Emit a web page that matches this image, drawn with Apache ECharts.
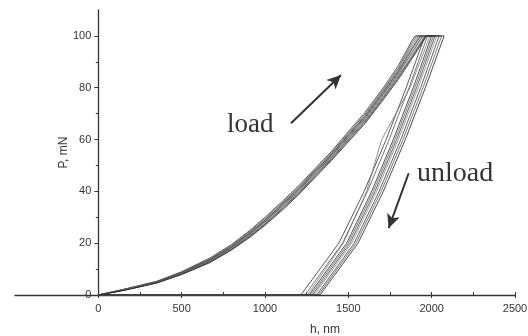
<!DOCTYPE html>
<html>
<head>
<meta charset="utf-8">
<script src="https://cdn.jsdelivr.net/npm/echarts@6/dist/echarts.min.js"></script>
<style>html,body{margin:0;padding:0;background:#fff;}#c{width:528px;height:336px;}</style>
</head>
<body>
<div id="c"></div>
<script>
// Loading branch: shared depth grid (nm) and load (mN) per indent
const loadH = [0,150,350,500,670,800,910,1000,1110,1200,1310,1400,1510,1600,1710,1800,1880];
const loadP = [
  [0,2.2,5.3,9.0,14.3,19.5,25.0,30.0,36.5,42.0,49.5,55.5,63.8,70.5,80.0,88.5,98],
  [0,2.1,5.2,8.8,14.0,19.2,24.6,29.5,36.0,41.5,49.0,55.0,63.2,69.8,79.3,87.6,97],
  [0,2.1,5.1,8.7,13.8,18.9,24.3,29.0,35.6,41.2,48.6,54.6,62.8,69.3,78.8,87.0,96],
  [0,2.0,5.0,8.6,13.6,18.7,24.0,28.8,35.3,40.8,48.3,54.3,62.4,68.9,78.3,86.4,95],
  [0,2.0,5.0,8.5,13.5,18.5,23.8,28.5,35.0,40.5,48.0,54.0,62.0,68.5,78.0,86.0,94.5],
  [0,1.9,4.9,8.4,13.3,18.3,23.5,28.2,34.6,40.1,47.6,53.6,61.6,68.0,77.4,85.4,93.5],
  [0,1.9,4.8,8.3,13.1,18.1,23.2,27.9,34.3,39.8,47.2,53.2,61.2,67.6,77.0,85.0,93],
  [0,1.8,4.7,8.1,12.9,17.8,22.9,27.5,33.9,39.3,46.8,52.8,60.8,67.1,76.4,84.4,92],
  [0,1.8,4.7,8.0,12.7,17.6,22.6,27.2,33.5,39.0,46.4,52.4,60.3,66.7,75.9,83.8,91.5],
  [0,1.7,4.6,7.9,12.5,17.4,22.3,26.9,33.1,38.6,46.0,52.0,59.8,66.2,75.4,83.2,91]
];
// Depth where 100 mN is reached, and depth at end of the hold
const peakH    = [1900,1910,1920,1930,1935,1945,1950,1960,1965,1970];
const holdEndH = [1960,1975,1990,2000,2010,2020,2030,2045,2060,2075];
// Unloading branch: load levels and depth per indent
const unloadP = [100,80,60,40,20,0];
const unloadH = [
  [1960,1847,1727,1595,1443,1215],
  [1975,1864,1745,1615,1465,1240],
  [1990,1870,1700,1610,1470,1255],
  [2000,1889,1770,1640,1490,1265],
  [2010,1899,1780,1650,1500,1275],
  [2020,1909,1790,1660,1510,1285],
  [2030,1919,1800,1670,1520,1295],
  [2045,1934,1815,1685,1535,1310],
  [2060,1948,1828,1697,1546,1320],
  [2075,1962,1842,1710,1558,1330]
];
const xMajor = [0,500,1000,1500,2000,2500];
const xMinor = [0,250,500,750,1000,1250,1500,1750,2000,2250,2500];
const yMajor = [0,20,40,60,80,100];
const yMinor = [10,30,50,70,90];
const lineColors = ['#333','#555','#777','#2a2a2a','#666','#444','#888','#3a3a3a','#5a5a5a','#222'];

const series = loadP.map((pArr, i) => {
  const data = loadH.map((h, j) => [h, pArr[j]]);
  data.push([peakH[i], 100]);
  data.push([holdEndH[i], 100]);
  unloadH[i].forEach((h, k) => data.push([h, unloadP[k]]));
  data.push([0, 0]);
  return {
    type: 'line', data, showSymbol: false, symbol: 'none', silent: true,
    lineStyle: { color: lineColors[i], width: 0.9, opacity: 0.9 },
    xAxisIndex: 0, yAxisIndex: 0, z: 3
  };
});
series.push({
  type: 'line', data: [], xAxisIndex: 0, yAxisIndex: 0,
  markLine: {
    silent: true, symbol: ['none', 'arrow'], symbolSize: [10, 14],
    label: { show: false },
    lineStyle: { color: '#333', width: 2, type: 'solid' },
    data: [
      [{ coord: [1156, 66.3] }, { coord: [1456, 84.9] }],
      [{ coord: [1862, 47.0] }, { coord: [1742, 25.8] }]
    ]
  }
});

const GRID_LEFT = 15, GRID_RIGHT = 13;
const X_MIN = -500, X_MAX = 2500;
// shift y axis to x = 0 inside the grid
const yShift = -((0 - X_MIN) / (X_MAX - X_MIN)) * (528 - GRID_LEFT - GRID_RIGHT);

const fmt = v => String(v);
const axisFont = { fontFamily: 'Liberation Sans, Arial, sans-serif', fontSize: 11, color: '#333' };
const chart = echarts.init(document.getElementById('c'), null, { renderer: 'canvas' });
chart.setOption({
  animation: false,
  backgroundColor: '#fff',
  grid: { left: GRID_LEFT, right: GRID_RIGHT, top: 10, bottom: 41, containLabel: false, outerBoundsMode: 'none' },
  xAxis: [
    {
      type: 'value', min: X_MIN, max: X_MAX, interval: 500, position: 'bottom',
      name: 'h, nm', nameLocation: 'middle', nameGap: 29, nameMoveOverlap: false,
      nameTextStyle: Object.assign({}, axisFont, { fontSize: 12, padding: [0, 0, 0, 120] }),
      axisLine: { show: true, onZero: false, lineStyle: { color: '#333', width: 1.3 } },
      axisTick: { show: true, inside: false, length: 3, customValues: xMajor, lineStyle: { color: '#333' } },
      axisLabel: Object.assign({ customValues: xMajor, margin: 8, formatter: fmt }, axisFont),
      splitLine: { show: false }
    },
    {
      type: 'value', min: X_MIN, max: X_MAX, interval: 500, position: 'bottom',
      axisLine: { show: false, onZero: false },
      axisTick: { show: true, inside: true, length: 3, customValues: xMinor, lineStyle: { color: '#333' } },
      axisLabel: { show: false },
      splitLine: { show: false }
    }
  ],
  yAxis: [
    {
      type: 'value', min: 0, max: 110, interval: 20, position: 'left', offset: yShift,
      name: 'P, mN', nameLocation: 'middle', nameGap: 29, nameRotate: 90, nameMoveOverlap: false,
      nameTextStyle: Object.assign({}, axisFont, { fontSize: 12 }),
      axisLine: { show: true, onZero: false, lineStyle: { color: '#333', width: 1.3 } },
      axisTick: { show: true, inside: false, length: 4, customValues: yMajor, lineStyle: { color: '#333' } },
      axisLabel: Object.assign({ customValues: yMajor, margin: 7, formatter: fmt }, axisFont),
      splitLine: { show: false }
    },
    {
      type: 'value', min: 0, max: 110, interval: 20, position: 'left', offset: yShift,
      axisLine: { show: false, onZero: false },
      axisTick: { show: true, inside: false, length: 2.5, customValues: yMinor, lineStyle: { color: '#333' } },
      axisLabel: { show: false },
      splitLine: { show: false }
    }
  ],
  graphic: [
    { type: 'text', left: 227, top: 111, silent: true,
      style: { text: 'load', fontFamily: 'Liberation Serif, Times New Roman, serif', fontSize: 27, fill: '#333' } },
    { type: 'text', left: 417, top: 160, silent: true,
      style: { text: 'unload', fontFamily: 'Liberation Serif, Times New Roman, serif', fontSize: 28, fill: '#333' } }
  ],
  series
});
</script>
</body>
</html>
